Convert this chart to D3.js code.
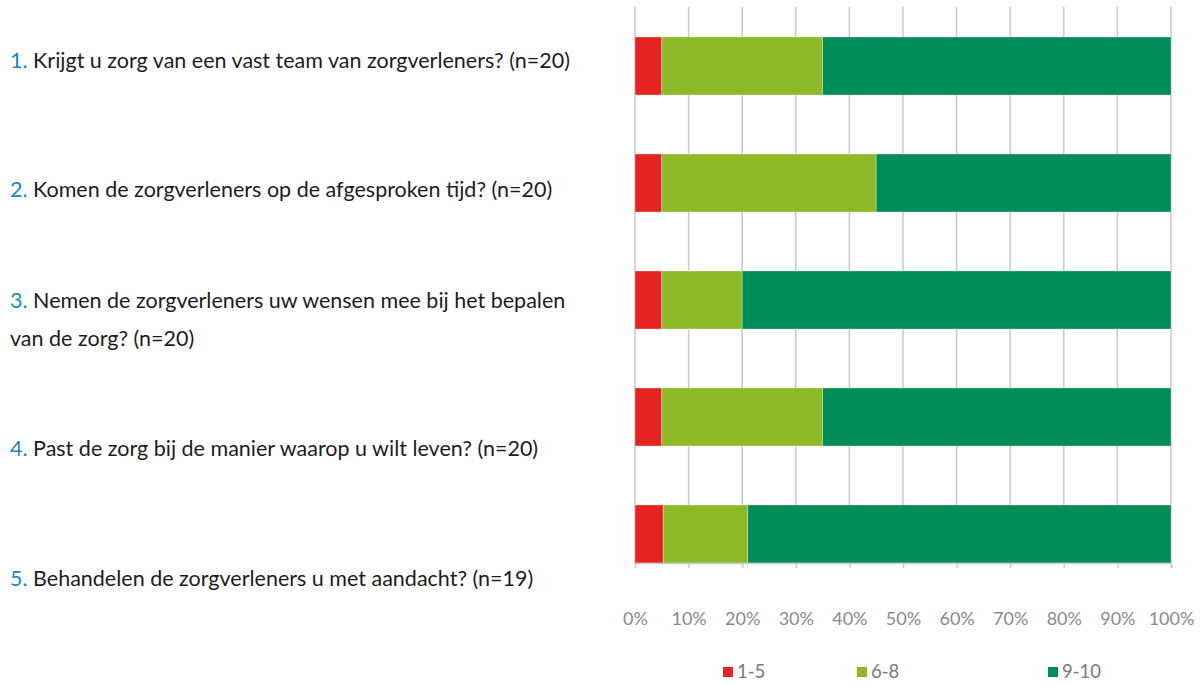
<!DOCTYPE html>
<html>
<head>
<meta charset="utf-8">
<script src="https://cdn.jsdelivr.net/npm/d3@7"></script>
<style>
  body { margin: 0; background: #fff; }
  text { font-family: Lato, "Open Sans", sans-serif; }
</style>
</head>
<body>
<div id="canvas"></div>
<script>
/* Configuration: drawing */
let svgWidth = 1200;
let svgHeight = 686;

/* Data */
let questionNumbers = ["1.", "2.", "3.", "4.", "5."];
let questionLines = [
    ["Krijgt u zorg van een vast team van zorgverleners? (n=20)"],
    ["Komen de zorgverleners op de afgesproken tijd? (n=20)"],
    ["Nemen de zorgverleners uw wensen mee bij het bepalen", "van de zorg? (n=20)"],
    ["Past de zorg bij de manier waarop u wilt leven? (n=20)"],
    ["Behandelen de zorgverleners u met aandacht? (n=19)"]
];
let seriesNames = ["1-5", "6-8", "9-10"];
let low = [5, 5, 5, 5, 5.26];       // 1-5
let mid = [30, 40, 15, 30, 15.79];  // 6-8
let high = [65, 55, 80, 65, 78.95]; // 9-10
let tickValues = [0, 10, 20, 30, 40, 50, 60, 70, 80, 90, 100];

let colors = ["#e42322", "#8cb925", "#008c57"];

let svg = d3.select("#canvas")
    .append("svg")
    .attr("width", svgWidth)
    .attr("height", svgHeight);

// build stacked rows
let rows = questionNumbers.map(function(q, i) {
    return { q: q, "1-5": low[i], "6-8": mid[i], "9-10": high[i] };
});
let stacked = d3.stack().keys(seriesNames)(rows);

let xScale = d3.scaleLinear()
    .domain([0, 100])
    .range([635, 1171]);

let yScale = d3.scaleBand()
    .domain(questionNumbers)
    .range([37, 563])
    .paddingInner(0.504)
    .paddingOuter(0);

// label positions are spaced independently of the bars
let labelScale = d3.scalePoint()
    .domain(questionNumbers)
    .range([60, 578]);

let plotTop = 7;
let plotBottom = 563;

// vertical grid lines
svg.append("g")
    .selectAll("line")
    .data(tickValues)
    .enter()
    .append("line")
    .attr("x1", d => xScale(d)).attr("x2", d => xScale(d))
    .attr("y1", plotTop).attr("y2", plotBottom)
    .attr("stroke", "#c9c9c9")
    .attr("stroke-width", 1.5);

// bars
svg.append("g")
    .selectAll("g")
    .data(stacked)
    .enter()
    .append("g")
    .attr("fill", (d, i) => colors[i])
    .selectAll("rect")
    .data(d => d)
    .enter()
    .append("rect")
    .attr("x", d => xScale(d[0]))
    .attr("width", d => xScale(d[1]) - xScale(d[0]))
    .attr("y", d => yScale(d.data.q))
    .attr("height", yScale.bandwidth())
    .attr("stroke", "#ffffff")
    .attr("stroke-opacity", 0.5)
    .attr("stroke-width", 0.6);

// x axis
let xAxis = d3.axisBottom(xScale)
    .tickValues(tickValues)
    .tickSize(5)
    .tickPadding(44)
    .tickFormat(d => d + "%");

let axisG = svg.append("g")
    .attr("transform", `translate(0, ${plotBottom})`)
    .call(xAxis);
axisG.select(".domain").attr("stroke", "#c9c9c9").attr("stroke-width", 1.5);
axisG.selectAll(".tick line").attr("stroke", "#c9c9c9").attr("stroke-width", 1.5);
axisG.selectAll(".tick text")
    .attr("fill", "#8a8a8a")
    .style("font-size", "18px")
    .style("font-family", "Lato, sans-serif");

// question labels
let lineGap = 38;
let labels = svg.append("g")
    .selectAll("text")
    .data(questionNumbers)
    .enter()
    .append("text")
    .attr("x", 10)
    .attr("y", function(d, i) {
        return labelScale(d) - (questionLines[i].length - 1) * lineGap / 2;
    })
    .attr("dy", "0.35em")
    .style("font-size", "21.5px")
    .attr("fill", "#1d1d1b");

labels.each(function(d, i) {
    let t = d3.select(this);
    questionLines[i].forEach(function(line, j) {
        if (j == 0) {
            t.append("tspan").attr("fill", "#1a8ac1").text(d + " ");
            t.append("tspan").text(line);
        } else {
            t.append("tspan").attr("x", 10).attr("dy", lineGap).text(line);
        }
    });
});

// legend
let legendX = [723, 857, 1048];
let legend = svg.append("g")
    .selectAll("g")
    .data(seriesNames)
    .enter()
    .append("g")
    .attr("transform", (d, i) => `translate(${legendX[i]}, 667)`);

legend.append("rect")
    .attr("width", 10).attr("height", 10)
    .attr("fill", (d, i) => colors[i]);

legend.append("text")
    .attr("x", 14).attr("y", 5)
    .attr("dy", "0.35em")
    .attr("fill", "#7a7a7a")
    .style("font-size", "18.5px")
    .text(d => d);
</script>
</body>
</html>
